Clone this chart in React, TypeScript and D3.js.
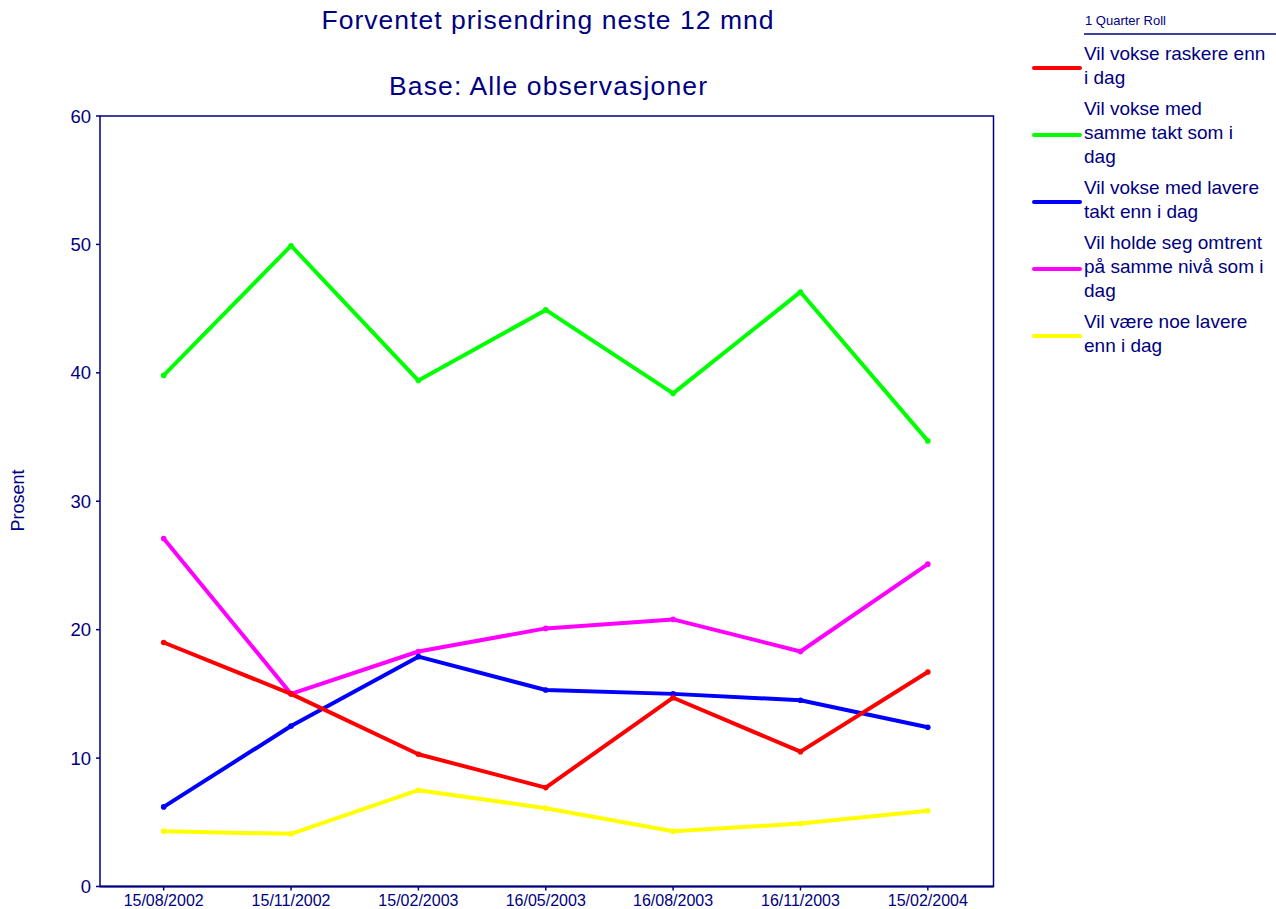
import React from "react";
import * as d3 from "d3";

const categories = ["15/08/2002", "15/11/2002", "15/02/2003", "16/05/2003", "16/08/2003", "16/11/2003", "15/02/2004"];
const raskere = [19.0, 15.0, 10.3, 7.7, 14.7, 10.5, 16.7];
const sammeTakt = [39.8, 49.9, 39.4, 44.9, 38.4, 46.3, 34.7];
const lavereTakt = [6.2, 12.5, 17.9, 15.3, 15.0, 14.5, 12.4];
const sammeNiva = [27.1, 15.0, 18.3, 20.1, 20.8, 18.3, 25.1];
const noeLavere = [4.3, 4.1, 7.5, 6.1, 4.3, 4.9, 5.9];
const yTicks = [0, 10, 20, 30, 40, 50, 60];

const seriesNames = [
  ["Vil vokse raskere enn", "i dag"],
  ["Vil vokse med", "samme takt som i", "dag"],
  ["Vil vokse med lavere", "takt enn i dag"],
  ["Vil holde seg omtrent", "på samme nivå som i", "dag"],
  ["Vil være noe lavere", "enn i dag"],
];
const seriesValues = [raskere, sammeTakt, lavereTakt, sammeNiva, noeLavere];
const seriesColors = ["#FF0000", "#00FF00", "#0000FF", "#FF00FF", "#FFFF00"];

const NAVY = "#000080";
const FONT = "'Liberation Sans', Arial, sans-serif";

export default function App() {
  const left = 100, right = 993.5, top = 116, bottom = 886.5;
  const x = d3.scaleBand<string>().domain(categories).range([left, 991.5]);
  const y = d3.scaleLinear().domain([0, 60]).range([bottom, top]);
  const cx = (c: string) => (x(c) as number) + x.bandwidth() / 2;
  const line = d3.line<number>().x((_, i) => cx(categories[i])).y((d) => y(d));

  const legendItems: { lines: string[]; base: number; color: string }[] = [];
  let base = 60;
  seriesNames.forEach((lines, i) => {
    legendItems.push({ lines, base, color: seriesColors[i] });
    base += lines.length * 24 + 7;
  });

  const order = [4, 3, 2, 1, 0];

  return (
    <svg width={1276} height={909} style={{ position: "absolute", left: 0, top: 0, background: "#fff" }} fontFamily={FONT}>
      <rect x={0} y={0} width={1276} height={909} fill="#fff" />
      <text x={547.5} y={28.5} textAnchor="middle" fontSize={26.5} fill={NAVY} textLength={452} lengthAdjust="spacing">
        Forventet prisendring neste 12 mnd
      </text>
      <text x={548} y={94.5} textAnchor="middle" fontSize={26.5} fill={NAVY} textLength={318} lengthAdjust="spacing">
        Base: Alle observasjoner
      </text>

      <rect x={left} y={top} width={right - left} height={bottom - top} fill="none" stroke={NAVY} strokeWidth={1.5} />
      <line x1={left} x2={right} y1={bottom} y2={bottom} stroke={NAVY} strokeWidth={2} />

      {yTicks.map((t) => (
        <g key={t}>
          <line x1={left - 4} x2={left} y1={y(t)} y2={y(t)} stroke={NAVY} strokeWidth={1.5} />
          <text x={91} y={y(t) + 6.5} textAnchor="end" fontSize={18.5} fill={NAVY}>
            {t}
          </text>
        </g>
      ))}
      <text transform={`translate(24,500.5) rotate(-90)`} textAnchor="middle" fontSize={18} fill={NAVY}>
        Prosent
      </text>

      {categories.map((c) => (
        <g key={c}>
          <line x1={cx(c)} x2={cx(c)} y1={bottom} y2={bottom + 4} stroke={NAVY} strokeWidth={1.5} />
          <text x={cx(c)} y={906} textAnchor="middle" fontSize={16} fill={NAVY}>
            {c}
          </text>
        </g>
      ))}

      {order.map((si) => (
        <g key={si}>
          <path d={line(seriesValues[si]) || ""} fill="none" stroke={seriesColors[si]} strokeWidth={4} strokeLinejoin="round" />
          {seriesValues[si].map((v, i) => (
            <circle key={i} cx={cx(categories[i])} cy={y(v)} r={2.8} fill={seriesColors[si]} />
          ))}
        </g>
      ))}

      <text x={1085} y={25} fontSize={13} fill={NAVY}>
        1 Quarter Roll
      </text>
      <line x1={1084} x2={1276} y1={34} y2={34} stroke={NAVY} strokeWidth={1.5} />
      {legendItems.map((it, i) => (
        <g key={i}>
          <line
            x1={1034}
            x2={1080}
            y1={it.base + (it.lines.length - 1) * 12 - 4}
            y2={it.base + (it.lines.length - 1) * 12 - 4}
            stroke={it.color}
            strokeWidth={4}
            strokeLinecap="round"
          />
          {it.lines.map((l, j) => (
            <text key={j} x={1084} y={it.base + j * 24} fontSize={19} fill={NAVY}>
              {l}
            </text>
          ))}
        </g>
      ))}
    </svg>
  );
}
